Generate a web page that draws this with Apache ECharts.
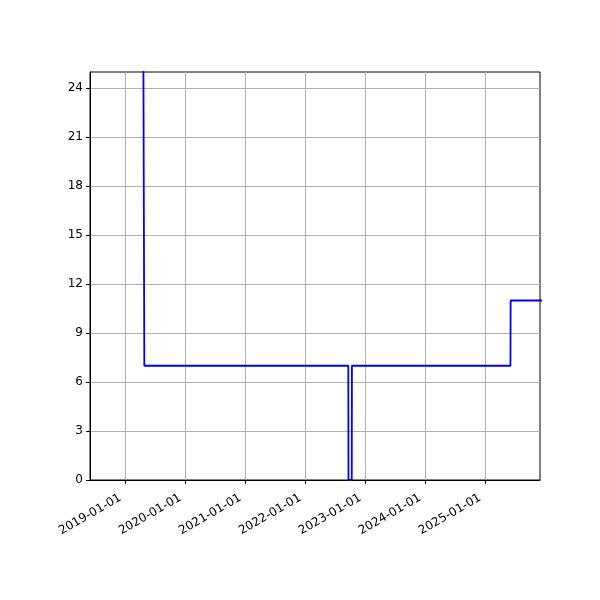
<!DOCTYPE html>
<html>
<head>
<meta charset="utf-8">
<script src="https://cdn.jsdelivr.net/npm/echarts@6/dist/echarts.min.js"></script>
<style>html,body{margin:0;padding:0;background:#fff}#c{width:600px;height:600px}</style>
</head>
<body>
<div id="c"></div>
<script>
const dates = ['2018-10-01','2019-04-15','2019-04-25','2022-09-19','2022-09-20','2022-10-10','2022-10-11','2025-06-03','2025-06-04','2025-12-31'];
const values = [40, 40, 7, 7, 0, 0, 7, 7, 11, 11];
const xTickLabels = ['2019-01-01','2020-01-01','2021-01-01','2022-01-01','2023-01-01','2024-01-01','2025-01-01'];
const yTickLabels = [0, 3, 6, 9, 12, 15, 18, 21, 24];
const xMin = '2018-05-29';
const xMax = '2025-11-30';

const ts = s => new Date(s + 'T00:00:00Z').getTime();
const xTicks = xTickLabels.map(ts);
const chart = echarts.init(document.getElementById('c'), null, {renderer: 'canvas'});
const font = 'DejaVu Sans';
chart.setOption({
  animation: false,
  grid: {left: 90, right: 60, top: 72, bottom: 120, show: true, borderColor: '#000', borderWidth: 1, containLabel: false},
  xAxis: {
    type: 'value',
    min: ts(xMin), max: ts(xMax),
    axisLine: {show: true, onZero: false, lineStyle: {color: '#000', width: 1}},
    axisTick: {show: true, length: 4, customValues: xTicks, lineStyle: {color: '#000'}},
    axisLabel: {
      customValues: xTicks, rotate: 30, margin: 14, padding: [0, 6, 0, 0],
      fontFamily: font, fontSize: 12, color: '#000',
      formatter: v => { const d = new Date(v); return d.toISOString().slice(0, 10); }
    },
    splitLine: {show: true, lineStyle: {color: '#b0b0b0', width: 1}}
  },
  yAxis: {
    type: 'value', min: 0, max: 25,
    axisLine: {show: true, lineStyle: {color: '#000', width: 1}},
    axisTick: {show: true, length: 4, customValues: yTickLabels, lineStyle: {color: '#000'}},
    axisLabel: {customValues: yTickLabels, margin: 7, fontFamily: font, fontSize: 12, color: '#000'},
    splitLine: {show: true, lineStyle: {color: '#b0b0b0', width: 1}}
  },
  series: [{
    type: 'line',
    data: dates.map((d, i) => [ts(d), values[i]]),
    showSymbol: false,
    clip: true,
    lineStyle: {color: '#0000ff', width: 1.8},
    itemStyle: {color: '#0000ff'}
  }]
});
</script>
</body>
</html>
